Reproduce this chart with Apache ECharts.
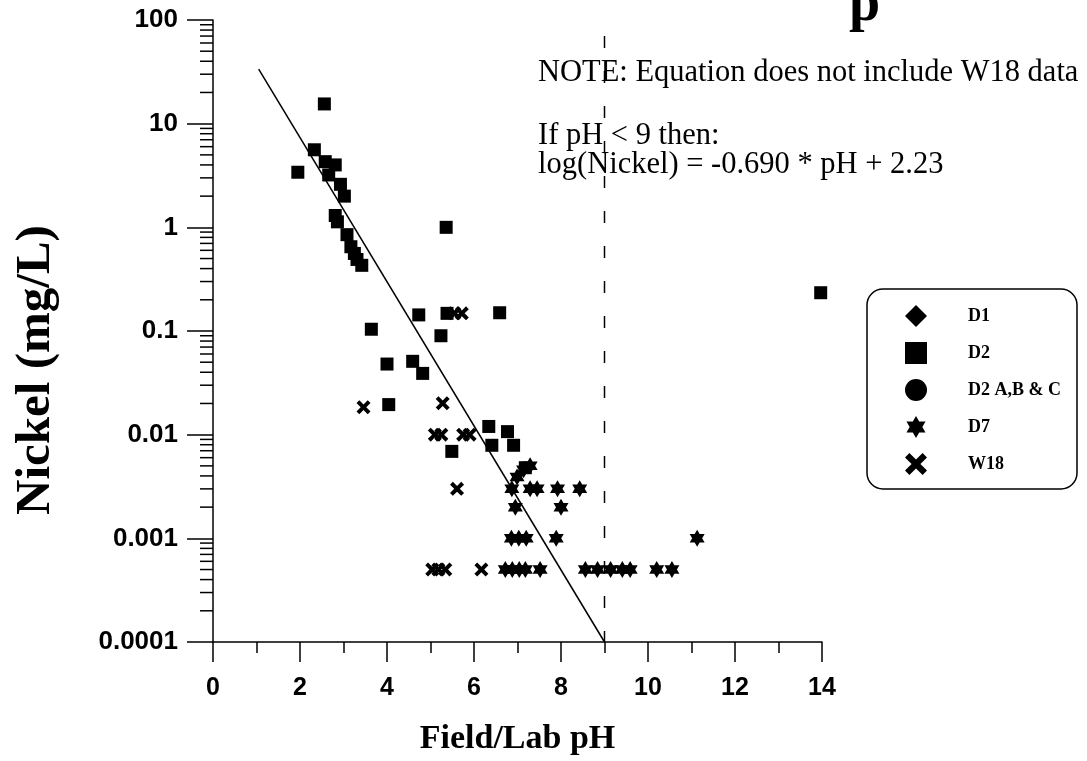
<!DOCTYPE html>
<html>
<head>
<meta charset="utf-8">
<script src="https://cdn.jsdelivr.net/npm/echarts@6/dist/echarts.min.js"></script>
<style>
html,body{margin:0;padding:0;background:#fff;}
#chart{width:1087px;height:761px;}
</style>
</head>
<body>
<div id="chart"></div>
<script>
// ---- data ----
const seriesNames = ['D1', 'D2', 'D2 A,B & C', 'D7', 'W18'];
const d1Data = [];
const d2abcData = [];
const d2Data = [
  [1.95, 3.4], [2.33, 5.6], [2.56, 15.5], [2.58, 4.3], [2.66, 3.2], [2.81, 4.0],
  [2.93, 2.6], [3.02, 2.0], [2.81, 1.3], [2.86, 1.13], [3.08, 0.85], [3.17, 0.65],
  [3.25, 0.56], [3.31, 0.49], [3.42, 0.43], [5.36, 1.0], [4.73, 0.143], [5.38, 0.148],
  [6.59, 0.15], [3.64, 0.104], [5.24, 0.09], [4.0, 0.048], [4.59, 0.051], [4.82, 0.039],
  [4.04, 0.0195], [6.34, 0.012], [6.77, 0.0107], [6.41, 0.0079], [6.91, 0.0079],
  [5.49, 0.0069], [7.18, 0.0048], [13.97, 0.234]
];
const d7Data = [
  [6.99, 0.0039], [7.14, 0.0046], [7.29, 0.005],
  [6.87, 0.003], [7.29, 0.003], [7.45, 0.003], [7.92, 0.003], [8.43, 0.003],
  [6.95, 0.002], [8.0, 0.002],
  [6.86, 0.001], [7.03, 0.001], [7.2, 0.001], [7.89, 0.001], [11.13, 0.001],
  [6.72, 0.0005], [6.88, 0.0005], [7.04, 0.0005], [7.18, 0.0005], [7.52, 0.0005],
  [8.56, 0.0005], [8.84, 0.0005], [9.14, 0.0005], [9.41, 0.0005], [9.59, 0.0005],
  [10.2, 0.0005], [10.55, 0.0005]
];
const w18Data = [
  [5.55, 0.148], [5.72, 0.148],
  [3.46, 0.0184], [5.28, 0.0201],
  [5.1, 0.01], [5.25, 0.01], [5.75, 0.01], [5.9, 0.01],
  [5.61, 0.003],
  [5.04, 0.0005], [5.18, 0.0005], [5.34, 0.0005], [6.17, 0.0005]
];
const fitLine = [[1.05, 33.6], [9, 0.0001]];
const phLimitLine = [[9, 70], [9, 0.0001]];
const yTickLabels = ['0.0001', '0.001', '0.01', '0.1', '1', '10', '100'];
const xTickLabels = ['0', '2', '4', '6', '8', '10', '12', '14'];
const noteLines = ['NOTE: Equation does not include W18 data', 'If pH < 9 then:', 'log(Nickel) = -0.690 * pH + 2.23'];
const yTitle = 'Nickel (mg/L)';
const xTitle = 'Field/Lab pH';
const croppedTitleFragment = 'p';

// minor log ticks (2..9 in every decade)
const yMinorTicks = [];
for (let e = -4; e < 2; e++) {
  for (let m = 2; m <= 9; m++) yMinorTicks.push([0, m * Math.pow(10, e)]);
}

const starPath = 'path://M10,0L12.887,5L18.66,5L15.774,10L18.66,15L12.887,15L10,20L7.113,15L1.34,15L4.226,10L1.34,5L7.113,5Z';
const xPath = 'path://M0,4L4,0L10,6L16,0L20,4L14,10L20,16L16,20L10,14L4,20L0,16L6,10Z';

const chart = echarts.init(document.getElementById('chart'), null, {renderer: 'canvas'});
const serif = 'Liberation Serif, Times New Roman, serif';
const sans = 'Liberation Sans, Arial, sans-serif';
const black = {color: '#000', opacity: 1};

chart.setOption({
  backgroundColor: '#fff',
  animation: false,
  grid: {left: 213, right: 265, top: 20, bottom: 119, containLabel: false},
  xAxis: {
    type: 'value', min: 0, max: 14, interval: 2,
    name: xTitle, nameLocation: 'middle', nameGap: 80,
    nameTextStyle: {fontFamily: serif, fontWeight: 'bold', fontSize: 34, color: '#000'},
    axisLine: {show: true, onZero: false, lineStyle: {color: '#000', width: 1.5}},
    axisTick: {show: true, inside: false, length: 20, lineStyle: {color: '#000', width: 1.5}},
    minorTick: {show: true, splitNumber: 2, length: 11, lineStyle: {color: '#000', width: 1.5}},
    splitLine: {show: false}, minorSplitLine: {show: false},
    axisLabel: {
      margin: 34, fontFamily: sans, fontWeight: 'bold', fontSize: 25, color: '#000',
      formatter: v => xTickLabels[Math.round(v / 2)]
    }
  },
  yAxis: {
    type: 'log', logBase: 10, min: 0.0001, max: 100, interval: 1,
    axisLine: {show: true, onZero: false, lineStyle: {color: '#000', width: 1.5}},
    axisTick: {show: true, inside: false, length: 26, lineStyle: {color: '#000', width: 1.5}},
    splitLine: {show: false},
    axisLabel: {
      margin: 35, fontFamily: sans, fontWeight: 'bold', fontSize: 26, color: '#000',
      formatter: v => yTickLabels[Math.round(Math.log10(v)) + 4]
    }
  },
  legend: {
    orient: 'vertical', left: 867, top: 289,
    padding: [16, 16, 14, 38], itemWidth: 22, itemHeight: 22, itemGap: 15,
    borderColor: '#000', borderWidth: 1.5, borderRadius: 16, backgroundColor: '#fff',
    textStyle: {fontFamily: serif, fontWeight: 'bold', fontSize: 18, color: '#000', padding: [0, 0, 0, 36]},
    data: seriesNames
  },
  graphic: [
    {type: 'text', left: 538, top: 57, style: {text: noteLines[0], font: '30.5px ' + serif, fill: '#000'}},
    {type: 'text', left: 538, top: 120, style: {text: noteLines[1], font: '30.5px ' + serif, fill: '#000'}},
    {type: 'text', left: 538, top: 149, style: {text: noteLines[2], font: '30.5px ' + serif, fill: '#000'}},
    {type: 'text', x: 36, y: 370, rotation: Math.PI / 2,
      style: {text: yTitle, font: 'bold 49px ' + serif, fill: '#000', textAlign: 'center', textVerticalAlign: 'middle'}},
    {type: 'text', x: 849, y: 34,
      style: {text: croppedTitleFragment, font: 'bold 56px ' + serif, fill: '#000', textAlign: 'left', textVerticalAlign: 'bottom'}}
  ],
  series: [
    {name: 'D1', type: 'scatter', data: d1Data, symbol: 'diamond', symbolSize: 16, itemStyle: black},
    {name: 'D2', type: 'scatter', data: d2Data, symbol: 'rect', symbolSize: 13, itemStyle: black, z: 3},
    {name: 'D2 A,B & C', type: 'scatter', data: d2abcData, symbol: 'circle', symbolSize: 14, itemStyle: black},
    {name: 'D7', type: 'scatter', data: d7Data, symbol: starPath, symbolSize: [15, 17], itemStyle: black, z: 3},
    {name: 'W18', type: 'scatter', data: w18Data, symbol: xPath, symbolSize: 14, itemStyle: black, z: 3},
    {name: 'fit', type: 'line', data: fitLine, symbol: 'none', lineStyle: {color: '#000', width: 1.5}, silent: true, z: 2},
    {name: 'pH9', type: 'line', data: phLimitLine, symbol: 'none', lineStyle: {color: '#000', width: 1.5, type: [12, 23]}, silent: true, z: 2},
    {
      name: 'minorTicks', type: 'custom', data: yMinorTicks, clip: false, silent: true, z: 5,
      renderItem: function (params, api) {
        const p = api.coord([0, api.value(1)]);
        return {type: 'line', shape: {x1: p[0] - 13, y1: p[1], x2: p[0], y2: p[1]},
          style: {stroke: '#000', lineWidth: 1.5}};
      }
    }
  ]
});
</script>
</body>
</html>
